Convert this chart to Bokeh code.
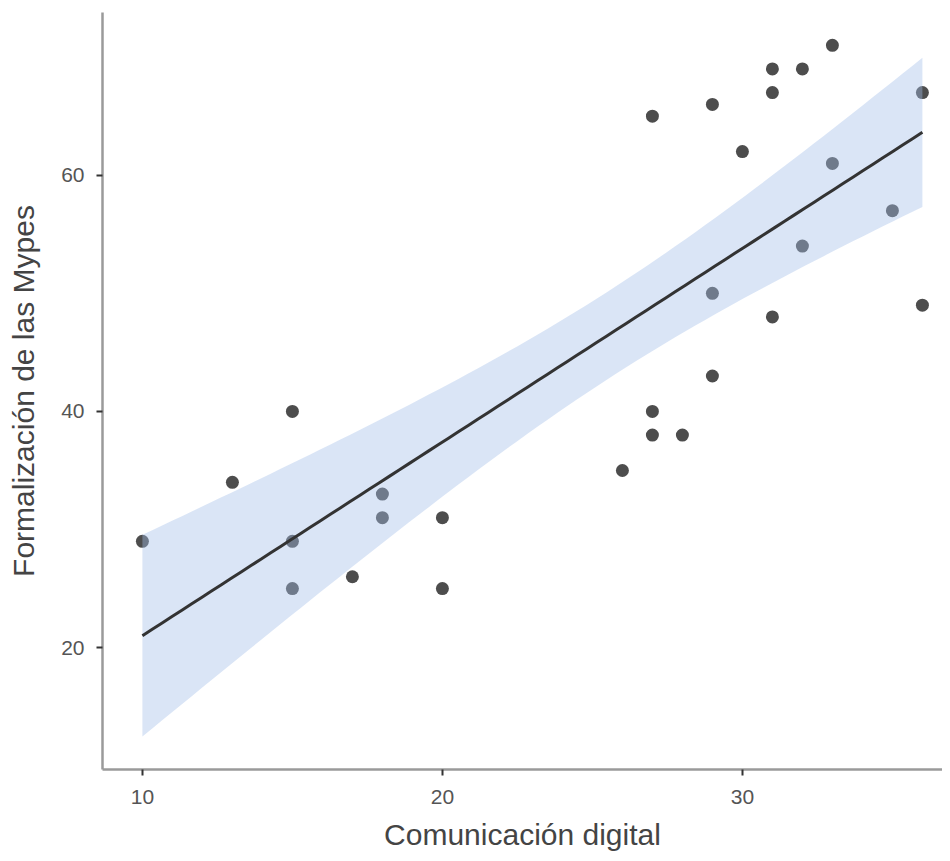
import numpy as np
from bokeh.plotting import figure
from bokeh.models import Range1d, FixedTicker
from bokeh.embed import file_html
from bokeh.resources import INLINE

# Data
comunicacion = [10, 13, 15, 15, 15, 17, 18, 18, 20, 20, 26, 27, 27, 27, 28,
                29, 29, 29, 30, 31, 31, 31, 32, 32, 33, 33, 35, 36, 36]
formalizacion = [29, 34, 40, 29, 25, 26, 33, 31, 31, 25, 35, 65, 40, 38, 38,
                 66, 50, 43, 62, 69, 67, 48, 69, 54, 71, 61, 57, 67, 49]
x_ticks = [10, 20, 30]
y_ticks = [20, 40, 60]
t_crit = 2.052  # t(0.975, df=27) for the 95% band

# Linear fit with 95% confidence band (as in geom_smooth(method="lm"))
x = np.array(comunicacion, dtype=float)
y = np.array(formalizacion, dtype=float)
n = len(x)
b1, b0 = np.polyfit(x, y, 1)
resid = y - (b0 + b1 * x)
s = np.sqrt(np.sum(resid ** 2) / (n - 2))
sxx = np.sum((x - x.mean()) ** 2)
xs = np.linspace(x.min(), x.max(), 80)
fit = b0 + b1 * xs
se = s * np.sqrt(1.0 / n + (xs - x.mean()) ** 2 / sxx)
lo = fit - t_crit * se
hi = fit + t_crit * se

p = figure(width=942, height=853, output_backend="svg", toolbar_location=None,
           x_range=Range1d(8.67, 36.67), y_range=Range1d(9.68, 73.78),
           min_border_left=102, min_border_right=0, min_border_top=12,
           min_border_bottom=83)
p.outline_line_color = None
p.grid.visible = False
p.background_fill_color = "white"

p.scatter(x, y, size=13, color="#4d4d4d", line_color=None)
p.varea(x=xs, y1=lo, y2=hi, fill_color="#a3bde9", fill_alpha=0.4)
p.line(xs, fit, line_color="#333333", line_width=3)

for ax in (p.xaxis[0], p.yaxis[0]):
    ax.axis_line_color = "#9a9a9a"
    ax.axis_line_width = 2.5
    ax.major_tick_line_color = "#333333"
    ax.major_tick_line_width = 2
    ax.major_tick_in = 0
    ax.major_tick_out = 6
    ax.minor_tick_line_color = None
    ax.major_label_text_color = "#555555"
    ax.major_label_text_font = "Liberation Sans"
    ax.major_label_text_font_size = "21px"
    ax.axis_label_text_color = "#444444"
    ax.axis_label_text_font = "Liberation Sans"
    ax.axis_label_text_font_size = "30px"
    ax.axis_label_text_font_style = "normal"

p.xaxis.ticker = FixedTicker(ticks=x_ticks)
p.yaxis.ticker = FixedTicker(ticks=y_ticks)
p.xaxis.axis_label = "Comunicación digital"
p.yaxis.axis_label = "Formalización de las Mypes"
p.xaxis.major_label_standoff = 14
p.yaxis.major_label_standoff = 12
p.xaxis.axis_label_standoff = 11
p.yaxis.axis_label_standoff = 18

open("out.html", "w").write(file_html(p, INLINE))
